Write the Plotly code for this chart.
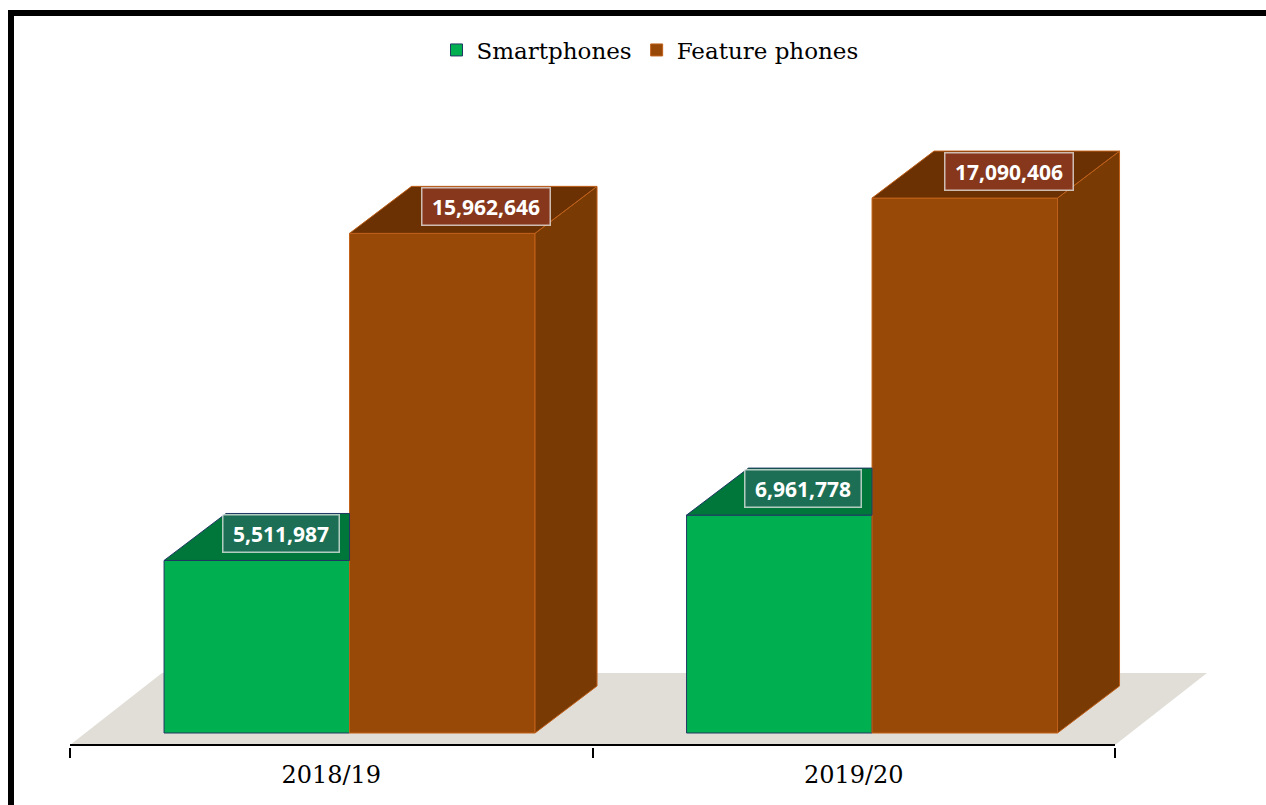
import plotly.graph_objects as go

# ---------------- data ----------------
categories = ["2018/19", "2019/20"]
series_names = ["Smartphones", "Feature phones"]
smartphones = [5511987, 6961778]
feature_phones = [15962646, 17090406]
series_values = [smartphones, feature_phones]

# ---------------- layout geometry (pixels) ----------------
W, H = 1266, 805
L, R, T, B = 70, 1230, 100, 747       # plot area in pixels
X_PX = 522.5                          # pixels per category
Y_PX = 31.3e-6                        # pixels per unit value
BASE_PX = 733                         # pixel row of value 0

xmin = -0.5
xmax = xmin + (R - L) / X_PX
ymax = (BASE_PX - T) / Y_PX
ymin = -(B - BASE_PX) / Y_PX

DX = 62 / X_PX                        # 3D depth (x units)
DY = 47 / Y_PX                        # 3D depth (y units)
BAR_W = 0.355
START = -0.32
FLOOR_FRONT = -(745 - BASE_PX) / Y_PX
FLOOR_BACK = (BASE_PX - 673) / Y_PX
FLOOR_DX = 92 / X_PX

front_col = ["#00B050", "#984807"]
top_col = ["#00773A", "#6B3102"]
side_col = ["#0A6B35", "#7A3A04"]
line_col = ["#203864", "#C0601A"]
label_bg = ["rgba(32,110,88,0.88)", "rgba(138,56,32,0.88)"]
label_xshift = [-7, 13]

n = len(categories)
fig = go.Figure()

# front faces as bars
for s, (name, vals) in enumerate(zip(series_names, series_values)):
    fig.add_trace(go.Bar(
        x=list(range(n)), y=vals, base=0,
        offset=START + s * BAR_W, width=BAR_W,
        name=name,
        marker=dict(color=front_col[s], line=dict(color=line_col[s], width=1)),
        hoverinfo="name+y",
    ))

# top and side faces (3D effect)
for s, vals in enumerate(series_values):
    tx, ty, sx, sy = [], [], [], []
    for i, v in enumerate(vals):
        x0 = i + START + s * BAR_W
        x1 = x0 + BAR_W
        nxt = series_values[s + 1][i] if s + 1 < len(series_values) else None
        if nxt is not None and nxt >= v:
            tx += [x0, x1, x1, x0 + DX, x0, None]
            ty += [v, v, v + DY, v + DY, v, None]
        else:
            tx += [x0, x1, x1 + DX, x0 + DX, x0, None]
            ty += [v, v, v + DY, v + DY, v, None]
            sx += [x1, x1 + DX, x1 + DX, x1, x1, None]
            sy += [0, DY, v + DY, v, 0, None]
    if sx:
        fig.add_trace(go.Scatter(x=sx, y=sy, mode="lines", fill="toself",
                                 fillcolor=side_col[s], line=dict(color=line_col[s], width=1),
                                 showlegend=False, hoverinfo="skip"))
    fig.add_trace(go.Scatter(x=tx, y=ty, mode="lines", fill="toself",
                             fillcolor=top_col[s], line=dict(color=line_col[s], width=1),
                             showlegend=False, hoverinfo="skip"))

# category axis line at front of the floor
fig.add_trace(go.Scatter(x=[-0.5, n - 0.5], y=[FLOOR_FRONT, FLOOR_FRONT], mode="lines",
                         line=dict(color="black", width=2.2), showlegend=False, hoverinfo="skip"))

# value labels
for s, vals in enumerate(series_values):
    for i, v in enumerate(vals):
        xc = i + START + (s + 0.5) * BAR_W + DX / 2
        fig.add_annotation(x=xc, y=v + DY / 2, xref="x", yref="y",
                           xshift=label_xshift[s], yshift=3,
                           text=f"&nbsp;<b>{v:,}</b>&nbsp;", showarrow=False,
                           font=dict(family="Open Sans", size=21, color="white"),
                           bgcolor=label_bg[s], bordercolor="rgba(235,235,235,0.75)",
                           borderwidth=1.5, borderpad=4)

# floor
floor_path = (f"M {-0.5},{FLOOR_FRONT} L {n - 0.5},{FLOOR_FRONT} "
              f"L {n - 0.5 + FLOOR_DX},{FLOOR_BACK} L {-0.5 + FLOOR_DX},{FLOOR_BACK} Z")
fig.add_shape(type="path", path=floor_path, xref="x", yref="y",
              fillcolor="#E0DED7", line=dict(width=0), layer="below")

# outer black frame
def px_x(p):
    return (p - L) / (R - L)

def px_y(p):
    return (B - p) / (B - T)

fig.add_shape(type="rect", xref="paper", yref="paper",
              x0=px_x(11), x1=px_x(1276), y0=px_y(822), y1=px_y(13),
              line=dict(color="black", width=6), fillcolor="rgba(0,0,0,0)", layer="above")

fig.update_layout(
    width=W, height=H,
    margin=dict(l=L, r=W - R, t=T, b=H - B),
    paper_bgcolor="white", plot_bgcolor="rgba(0,0,0,0)",
    barmode="overlay",
    showlegend=True,
    legend=dict(orientation="h", x=0.5, xanchor="center", y=px_y(50), yanchor="middle",
                font=dict(family="DejaVu Serif", size=23, color="black"),
                itemwidth=30, traceorder="normal"),
    xaxis=dict(range=[xmin, xmax], tickvals=list(range(n)), ticktext=categories,
               ticks="", showgrid=False, zeroline=False, showline=False,
               tickfont=dict(family="DejaVu Serif", size=24, color="black"),
               ticklabelstandoff=11,
               minor=dict(tickvals=[i - 0.5 for i in range(n + 1)], ticks="outside",
                          ticklen=10, tickwidth=1.5, tickcolor="black", showgrid=False)),
    yaxis=dict(range=[ymin, ymax], visible=False),
)

fig.write_html("out.html", config={"displayModeBar": False},
               post_script="document.body.style.margin='0px';")
